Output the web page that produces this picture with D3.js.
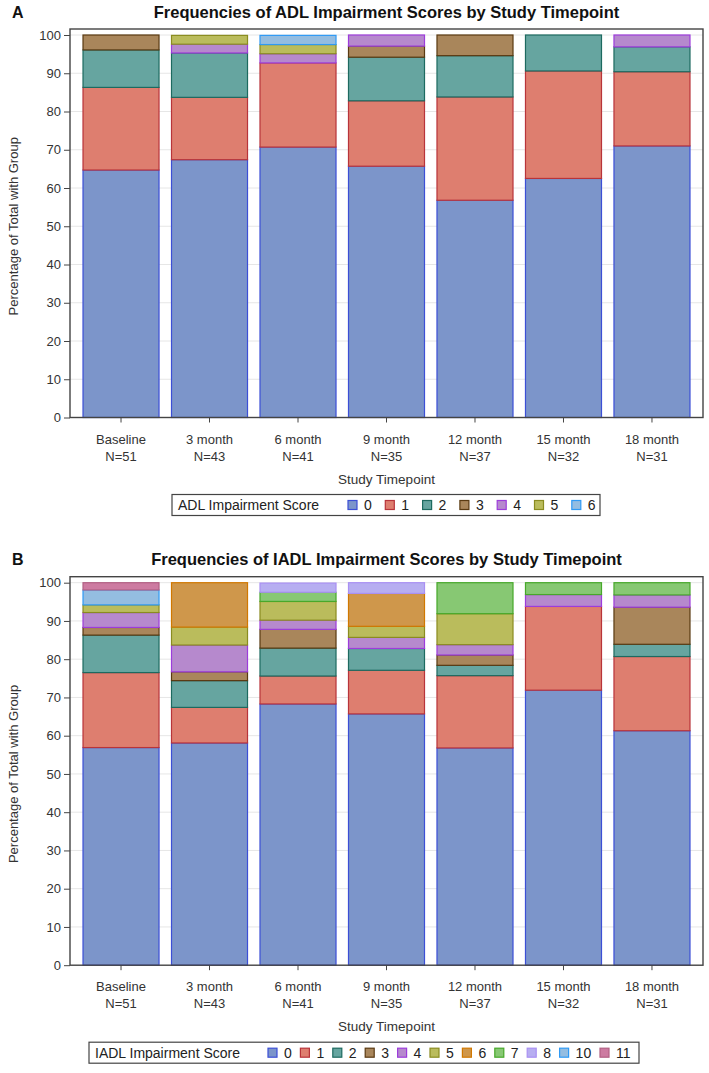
<!DOCTYPE html>
<html><head><meta charset="utf-8">
<script src="https://cdn.jsdelivr.net/npm/d3@7"></script>
<style>body{margin:0;background:#fff}svg{display:block;font-family:"Liberation Sans",Arial,sans-serif}</style>
</head><body><svg id="c" width="709" height="1073"></svg>
<script>
// ---- data ----
const timepoints = ["Baseline","3 month","6 month","9 month","12 month","15 month","18 month"];
const groupN = ["N=51","N=43","N=41","N=35","N=37","N=32","N=31"];
const yTicks = [0,10,20,30,40,50,60,70,80,90,100];

// ADL impairment score percentages per timepoint
const adlScores = ["0","1","2","3","4","5","6"];
const adl0 = [64.7,67.4,70.7,65.7,56.8,62.5,71.0];
const adl1 = [21.6,16.3,22.0,17.1,27.0,28.1,19.4];
const adl2 = [9.8,11.6,0,11.4,10.8,9.4,6.5];
const adl3 = [3.9,0,0,2.9,5.4,0,0];
const adl4 = [0,2.3,2.4,2.9,0,0,3.1];
const adl5 = [0,2.3,2.4,0,0,0,0];
const adl6 = [0,0,2.4,0,0,0,0];

// IADL impairment score percentages per timepoint
const iadlScores = ["0","1","2","3","4","5","6","7","8","10","11"];
const iadl0  = [56.9,58.1,68.3,65.7,56.8,71.9,61.3];
const iadl1  = [19.6,9.3,7.3,11.4,18.9,21.9,19.4];
const iadl2  = [9.8,7.0,7.3,5.7,2.7,0,3.2];
const iadl3  = [2.0,2.3,4.9,0,2.7,0,9.7];
const iadl4  = [3.9,7.0,2.4,2.9,2.7,3.1,3.2];
const iadl5  = [2.0,4.7,4.9,2.9,8.1,0,0];
const iadl6  = [0,11.6,0,8.6,0,0,0];
const iadl7  = [0,0,2.4,0,8.1,3.1,3.2];
const iadl8  = [0,0,2.4,2.9,0,0,0];
const iadl10 = [3.9,0,0,0,0,0,0];
const iadl11 = [1.9,0,0,0,0,0,0];

// ---- styles ----
const C = {blue:["#7C95CA","#3c4fd6"],red:["#DE7E6F","#b8343a"],teal:["#66A5A0","#1d6a60"],brown:["#A9865B","#5a3a12"],
  purple:["#B689CD","#9d3cdb"],olive:["#BABC5C","#8a8c20"],orange:["#CF974B","#d17800"],green:["#87C873","#47a82a"],
  lilac:["#B7AEF1","#a990f3"],sky:["#94BDE1","#2f9af5"],pink:["#CD7BA1","#b26084"]};
const adlColors = {"0":C.blue,"1":C.red,"2":C.teal,"3":C.brown,"4":C.purple,"5":C.olive,"6":C.sky};
const iadlColors = {"0":C.blue,"1":C.red,"2":C.teal,"3":C.brown,"4":C.purple,"5":C.olive,"6":C.orange,
  "7":C.green,"8":C.lilac,"10":C.sky,"11":C.pink};

const svg = d3.select("#c");

function drawPanel(opt){
  const {letter,title,top,scores,series,colors,legendTitle,legend} = opt;
  const frameTop = top+17.5, y0 = top+406, y100 = top+23.5;
  const L = 70, R = 703;
  const x = d3.scaleBand().domain(timepoints).range([L,R]).paddingInner(0.141).paddingOuter(0.147);
  const y = d3.scaleLinear().domain([0,100]).range([y0,y100]);
  const g = svg.append("g");

  g.append("text").attr("x",12).attr("y",top+6).attr("font-size",16).attr("font-weight","bold").attr("fill","#111").text(letter);
  g.append("text").attr("x",(L+R)/2).attr("y",top+6).attr("text-anchor","middle").attr("font-size",16.5)
    .attr("font-weight","bold").attr("fill","#111").text(title);

  // gridlines
  g.append("g").selectAll("line").data(yTicks.filter(d=>d>0)).join("line")
    .attr("x1",L).attr("x2",R).attr("y1",d=>y(d)).attr("y2",d=>y(d)).attr("stroke","#e6e6e6").attr("stroke-width",1);

  // stacked bars
  const rows = timepoints.map((t,i)=>{const o={t}; scores.forEach((s,k)=>o[s]=series[k][i]); return o;});
  const stacked = d3.stack().keys(scores)(rows);
  stacked.forEach(layer=>{
    g.append("g").selectAll("rect").data(layer.filter(d=>d[1]-d[0]>0.01)).join("rect")
      .attr("x",d=>x(d.data.t)).attr("width",x.bandwidth())
      .attr("y",d=>y(Math.min(d[1],100))).attr("height",d=>y(d[0])-y(Math.min(d[1],100)))
      .attr("fill",colors[layer.key][0]).attr("stroke",colors[layer.key][1]).attr("stroke-width",1.2);
  });

  // frame
  g.append("rect").attr("x",L).attr("y",frameTop).attr("width",R-L).attr("height",y0-frameTop)
    .attr("fill","none").attr("stroke","#444").attr("stroke-width",1.4);

  // y axis
  const ya = d3.axisLeft(y).tickValues(yTicks).tickSize(6).tickPadding(3);
  const yg = g.append("g").attr("transform",`translate(${L},0)`).call(ya);
  yg.select(".domain").remove();
  yg.selectAll("line").attr("stroke","#444");
  yg.selectAll("text").attr("font-size",13).attr("fill","#333").attr("font-family","Liberation Sans, Arial, sans-serif");

  // x axis
  const xa = d3.axisBottom(x).tickSize(5).tickFormat(()=>"");
  const xg = g.append("g").attr("transform",`translate(0,${y0})`).call(xa);
  xg.select(".domain").remove();
  xg.selectAll("line").attr("stroke","#444");
  g.append("g").selectAll("text").data(timepoints).join("text")
    .attr("x",d=>x(d)+x.bandwidth()/2).attr("y",y0+26).attr("text-anchor","middle")
    .attr("font-size",13).attr("fill","#333").text(d=>d);
  g.append("g").selectAll("text").data(groupN).join("text")
    .attr("x",(d,i)=>x(timepoints[i])+x.bandwidth()/2).attr("y",y0+43).attr("text-anchor","middle")
    .attr("font-size",13).attr("fill","#333").text(d=>d);
  g.append("text").attr("x",(L+R)/2).attr("y",y0+66).attr("text-anchor","middle").attr("font-size",13.5)
    .attr("fill","#333").text("Study Timepoint");

  g.append("text").attr("transform",`translate(${18},${(y0+y100)/2}) rotate(-90)`).attr("text-anchor","middle")
    .attr("font-size",13).attr("fill","#333").text("Percentage of Total with Group");

  // legend
  const ly = y0 + 77;
  g.append("rect").attr("x",legend.x0).attr("y",ly).attr("width",legend.x1-legend.x0).attr("height",21)
    .attr("fill","none").attr("stroke","#444").attr("stroke-width",1.2);
  g.append("text").attr("x",legend.x0+6).attr("y",ly+15.5).attr("font-size",14).attr("fill","#222").text(legendTitle);
  let cx = legend.start;
  scores.forEach(s=>{
    g.append("rect").attr("x",cx).attr("y",ly+6).attr("width",9).attr("height",9)
      .attr("fill",colors[s][0]).attr("stroke",colors[s][1]).attr("stroke-width",1.2);
    g.append("text").attr("x",cx+16).attr("y",ly+15.5).attr("font-size",14).attr("fill","#222").text(s);
    cx += legend.step + (s.length-1)*8;
  });
}

drawPanel({letter:"A",title:"Frequencies of ADL Impairment Scores by Study Timepoint",top:11.5,
  scores:adlScores,series:[adl0,adl1,adl2,adl3,adl4,adl5,adl6],colors:adlColors,legendTitle:"ADL Impairment Score",
  legend:{x0:172,x1:600,start:348,step:37.3}});
drawPanel({letter:"B",title:"Frequencies of IADL Impairment Scores by Study Timepoint",top:559.2,
  scores:iadlScores,series:[iadl0,iadl1,iadl2,iadl3,iadl4,iadl5,iadl6,iadl7,iadl8,iadl10,iadl11],colors:iadlColors,
  legendTitle:"IADL Impairment Score",legend:{x0:89,x1:639,start:268,step:32.4}});
</script></body></html>
